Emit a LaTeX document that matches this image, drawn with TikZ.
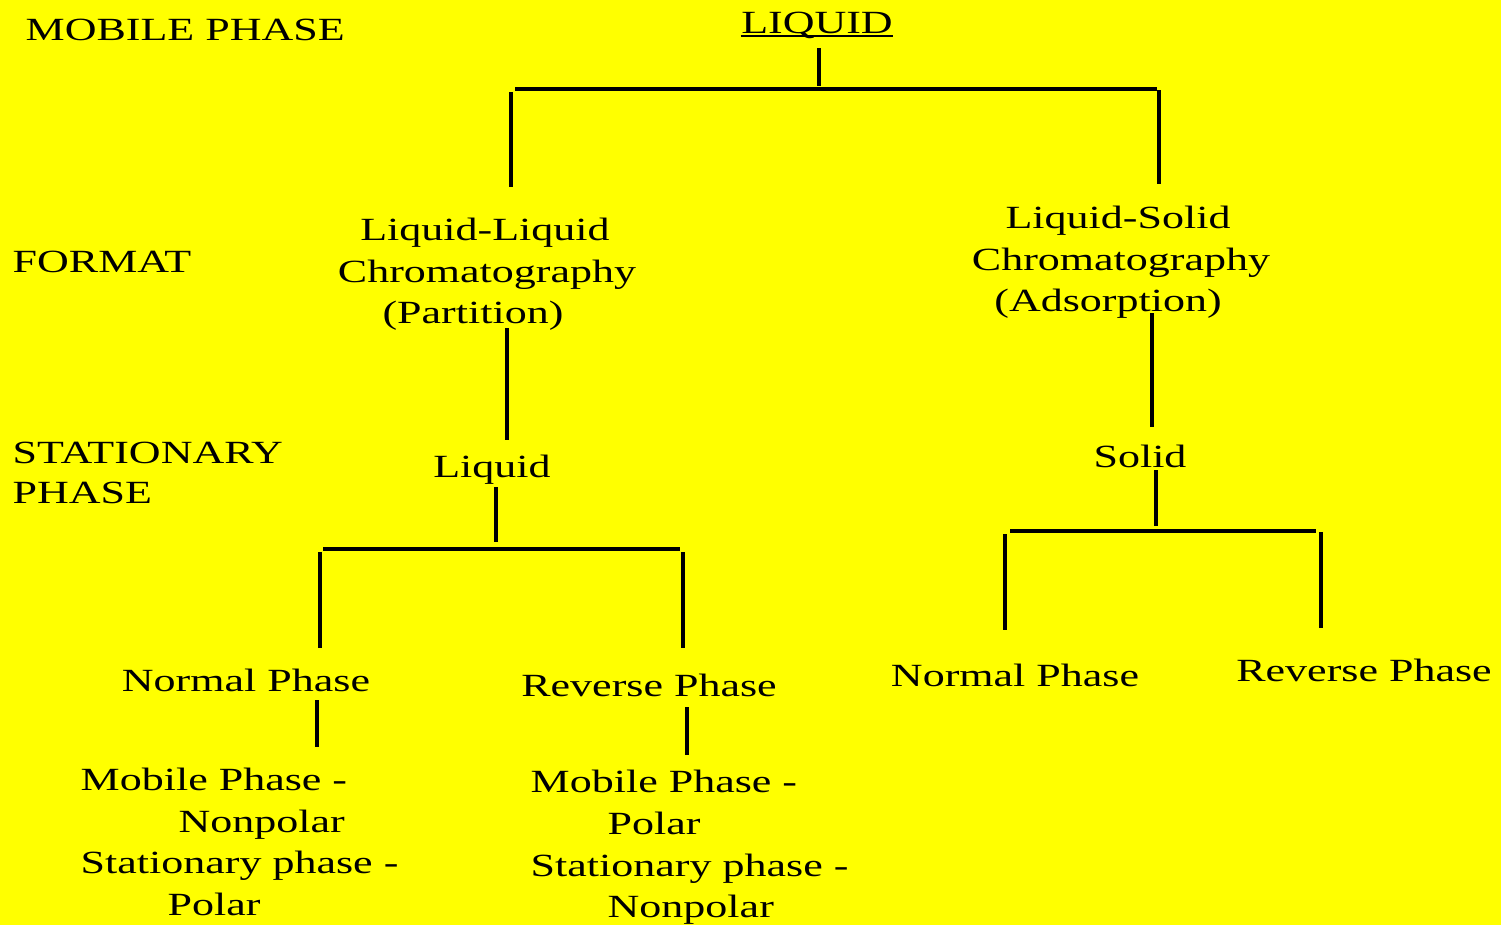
\documentclass[tikz,border=0pt]{standalone}
\usepackage{fontspec}
\setmainfont{Liberation Serif}[FakeStretch=1.36]
\definecolor{bgyellow}{RGB}{255,255,0}
\begin{document}
\begin{tikzpicture}[x=0.01cm,y=-0.01cm,
  txt/.style={inner sep=0pt,anchor=base,font=\fontsize{9.2}{11}\selectfont},
  lft/.style={txt,anchor=base west},
  tree/.style={line width=0.95pt,line cap=butt}]
%
% Einteilung der Fluessigchromatographie
%
\useasboundingbox (0,0) rectangle (1501,924);
\fill[bgyellow] (-5,-5) rectangle (1506,929);
%
% --- Ebenen links ---
\node[lft] (mob)  at (25,41)  {MOBILE PHASE};
\node[lft] (fmt)  at (12,272) {FORMAT};
\node[lft] (sta1) at (12,463) {STATIONARY};
\node[lft] (sta2) at (12,503) {PHASE};
%
% --- Wurzel ---
\node[txt] (top) at (817,33) {LIQUID};
\draw[line width=0.5pt] ([yshift=-0.9pt]top.base west) -- ([yshift=-0.9pt]top.base east);
\coordinate (s1) at (819,86);
\coordinate (b1l) at (515,89);
\coordinate (b1r) at (1157,89);
\coordinate (l1) at (511,92);
\coordinate (r1) at (1159,90);
\draw[tree,shorten <=0.15cm] (s1 |- top.base) -- (s1);
\draw[tree] (b1l) -- (b1r);
%
% --- Format: Verteilung und Adsorption ---
\node[txt] (llA) at (485,240) {Liquid-Liquid};
\node[txt] (llB) at (487,282) {Chromatography};
\node[txt] (llC) at (473,323) {(Partition)};
\node[txt] (lsA) at (1118,228) {Liquid-Solid};
\node[txt] (lsB) at (1121,270) {Chromatography};
\node[txt] (lsC) at (1108,311) {(Adsorption)};
\draw[tree,shorten >=0.53cm] (l1) -- (l1 |- llA.base);
\draw[tree,shorten >=0.44cm] (r1) -- (r1 |- lsA.base);
%
% --- Stationaere Phase ---
\node[txt] (liq) at (492,477) {Liquid};
\node[txt] (sol) at (1140,467) {Solid};
\coordinate (p1) at (507,328);
\coordinate (p2) at (1152,313);
\draw[tree,shorten >=0.37cm] (p1) -- (p1 |- liq.base);
\draw[tree,shorten >=0.40cm] (p2) -- (p2 |- sol.base);
%
% --- Verzweigung unter Liquid ---
\coordinate (s2) at (496,542);
\coordinate (b2l) at (323,549);
\coordinate (b2r) at (680,549);
\coordinate (l2) at (320,552);
\coordinate (r2) at (683,552);
\draw[tree,shorten <=0.10cm] (s2 |- liq.base) -- (s2);
\draw[tree] (b2l) -- (b2r);
\node[txt] (nL) at (246,691) {Normal Phase};
\node[txt] (rM) at (649,696) {Reverse Phase};
\draw[tree,shorten >=0.43cm] (l2) -- (l2 |- nL.base);
\draw[tree,shorten >=0.48cm] (r2) -- (r2 |- rM.base);
%
% --- Verzweigung unter Solid ---
\coordinate (s3) at (1156,526);
\coordinate (b3l) at (1010,531);
\coordinate (b3r) at (1316,531);
\coordinate (l3) at (1005,534);
\coordinate (r3) at (1321,532);
\draw[tree,shorten <=0.03cm] (s3 |- sol.base) -- (s3);
\draw[tree] (b3l) -- (b3r);
\node[txt] (nR) at (1015,686) {Normal Phase};
\node[txt] (rR) at (1364,681) {Reverse Phase};
\draw[tree,shorten >=0.56cm] (l3) -- (l3 |- nR.base);
\draw[tree,shorten >=0.53cm] (r3) -- (r3 |- rR.base);
%
% --- Normal Phase: Polaritaeten ---
\coordinate (q1) at (317,747);
\draw[tree,shorten <=0.09cm] (q1 |- nL.base) -- (q1);
\node[lft] (nLa) at (80,790)  {Mobile Phase -};
\node[lft] (nLb) at (178,832) {Nonpolar};
\node[lft] (nLc) at (80,873)  {Stationary phase -};
\node[lft] (nLd) at (167,915) {Polar};
%
% --- Reverse Phase: Polaritaeten ---
\coordinate (q2) at (687,755);
\draw[tree,shorten <=0.11cm] (q2 |- rM.base) -- (q2);
\node[lft] (rMa) at (530,792) {Mobile Phase -};
\node[lft] (rMb) at (607,834) {Polar};
\node[lft] (rMc) at (530,876) {Stationary phase -};
\node[lft] (rMd) at (607,917) {Nonpolar};
\end{tikzpicture}
\end{document}
